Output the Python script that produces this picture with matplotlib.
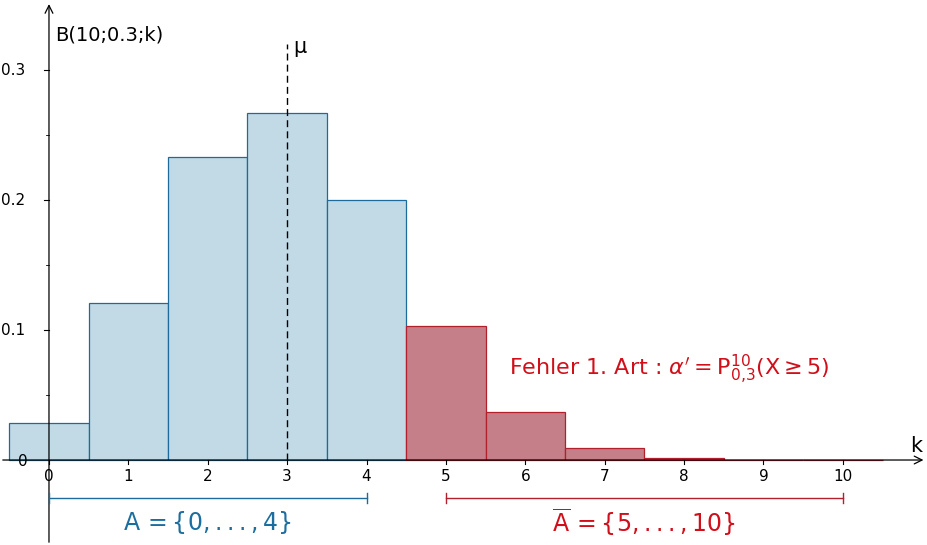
import numpy as np
import matplotlib.pyplot as plt
from matplotlib.patches import FancyArrowPatch

plt.rcParams['mathtext.fontset'] = 'dejavusans'

k = np.arange(0, 11)
p = [0.0282, 0.1211, 0.2335, 0.2668, 0.2001, 0.1029, 0.0368, 0.0090, 0.0014, 0.0001, 0.0000]
yticks = [0.1, 0.2, 0.3]
mu = 3

blue_fill, blue_edge = '#c1dae6', '#1c6b9c'
red_fill, red_edge = '#c47f88', '#b3202d'
blue_txt, red_txt = '#1b6e9f', '#d10f1a'

fig = plt.figure(figsize=(9.27, 5.45), dpi=100)
ax = fig.add_axes([0, 0, 1, 1])
ax.set_xlim(-0.617, 11.06)
ax.set_ylim(-0.0654, 0.354)
ax.axis('off')

for ki, pi in zip(k, p):
    if ki < 5:
        ax.bar(ki, pi, width=1, color=blue_fill, edgecolor=blue_edge, linewidth=0.9)
    else:
        ax.bar(ki, pi, width=1, color=red_fill, edgecolor=red_edge, linewidth=0.9)

# axes with arrows
ax.add_patch(FancyArrowPatch((-0.617, 0), (11.05, 0), arrowstyle='->', mutation_scale=14, lw=0.9, color='black'))
ax.add_patch(FancyArrowPatch((0, -0.0654), (0, 0.353), arrowstyle='->', mutation_scale=14, lw=0.9, color='black'))

for ki in k:
    ax.plot([ki, ki], [0, -0.003], color='black', lw=0.8)
    ax.text(ki, -0.007, str(ki), ha='center', va='top', fontsize=11)
for yt in yticks:
    ax.plot([0, -0.06], [yt, yt], color='black', lw=0.8)
    ax.text(-0.3, yt, str(yt), ha='right', va='center', fontsize=11)
for yt in [0.05, 0.15, 0.25]:
    ax.plot([0, -0.04], [yt, yt], color='black', lw=0.6)
ax.text(-0.27, -0.001, '0', ha='right', va='center', fontsize=11)

ax.text(0.08, 0.327, 'B(10;0.3;k)', fontsize=14, va='center')
ax.text(10.85, 0.011, 'k', fontsize=15, va='center')

ax.plot([mu, mu], [0, 0.32], color='black', lw=1, linestyle=(0, (5, 3)))
ax.text(mu + 0.08, 0.318, 'μ', fontsize=15, va='center')

ax.text(5.8, 0.070, r"Fehler 1. Art : $\alpha' = \mathsf{P}^{10}_{0{,}3}(\mathsf{X} \geq 5)$",
        color=red_txt, fontsize=16, va='center')

# bracket lines
by = -0.029
ax.plot([0, 4], [by, by], color=blue_edge, lw=1)
ax.plot([0, 0], [by - 0.004, by + 0.004], color=blue_edge, lw=1)
ax.plot([4, 4], [by - 0.004, by + 0.004], color=blue_edge, lw=1)
ax.plot([5, 10], [by, by], color=red_edge, lw=1)
ax.plot([5, 5], [by - 0.004, by + 0.004], color=red_edge, lw=1)
ax.plot([10, 10], [by - 0.004, by + 0.004], color=red_edge, lw=1)

ax.text(2, -0.048, r'A$\,=\{0,...,4\}$', color=blue_txt, fontsize=17, ha='center', va='center')
ax.text(7.5, -0.048, r'$\overline{\mathsf{A}}\,=\{5,...,10\}$', color=red_txt, fontsize=17, ha='center', va='center')

fig.savefig('out.png', dpi=100)
